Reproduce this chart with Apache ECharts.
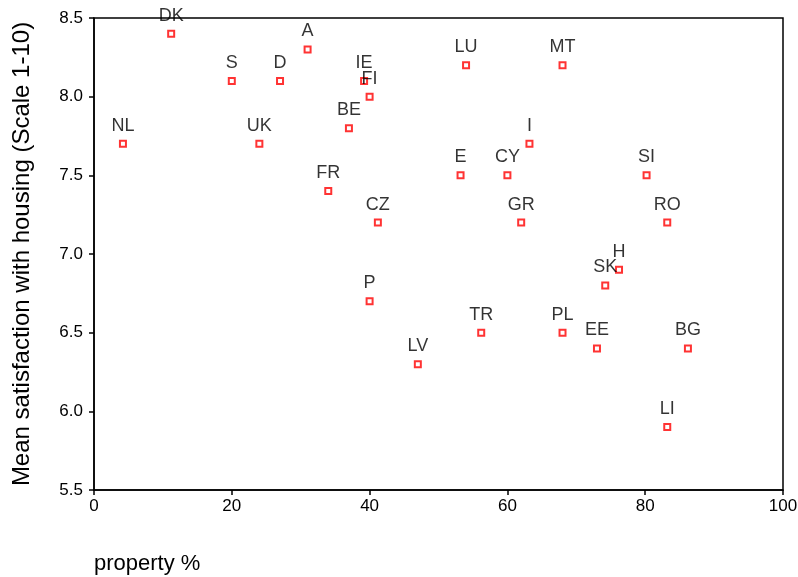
<!DOCTYPE html>
<html><head><meta charset="utf-8">
<script src="https://cdn.jsdelivr.net/npm/echarts@6/dist/echarts.min.js"></script>
<style>html,body{margin:0;padding:0;background:#fff}#c{width:798px;height:577px}</style>
</head><body><div id="c"></div>
<script>
const countries = ["DK","S","D","A","IE","FI","BE","NL","UK","FR","LU","MT","I","E","CY","SI","CZ","GR","RO","H","SK","P","TR","PL","EE","BG","LV","LI"];
const propertyPct = [11.2,20,27,31,39.2,40,37,4.2,24,34,54,68,63.2,53.2,60,80.2,41.2,62,83.2,76.2,74.2,40,56.2,68,73,86.2,47,83.2];
const satisfaction = [8.4,8.1,8.1,8.3,8.1,8.0,7.8,7.7,7.7,7.4,8.2,8.2,7.7,7.5,7.5,7.5,7.2,7.2,7.2,6.9,6.8,6.7,6.5,6.5,6.4,6.4,6.3,5.9];
const xTitle = "property %";
const yTitle = "Mean satisfaction with housing (Scale 1-10)";

const data = countries.map((c,i)=>({name:c, value:[propertyPct[i], satisfaction[i]]}));
const font = "Liberation Sans, Arial, sans-serif";
const chart = echarts.init(document.getElementById('c'));
chart.setOption({
  animation:false,
  grid:{left:94, top:18, right:15, bottom:87, outerBoundsMode:'none', containLabel:false, show:true, borderColor:'#000', borderWidth:1.5, backgroundColor:'transparent'},
  xAxis:{type:'value', min:0, max:100, interval:20,
    axisLine:{show:true, lineStyle:{color:'#000', width:1.5}},
    axisTick:{show:true, length:5, lineStyle:{color:'#000', width:1.5}},
    axisLabel:{color:'#000', fontSize:17, fontFamily:font, margin:8},
    splitLine:{show:false}},
  yAxis:{type:'value', min:5.5, max:8.5, interval:0.5,
    axisLine:{show:true, lineStyle:{color:'#000', width:1.5}},
    axisTick:{show:true, length:5, lineStyle:{color:'#000', width:1.5}},
    axisLabel:{color:'#000', fontSize:17, fontFamily:font, margin:11, formatter:v=>v.toFixed(1)},
    splitLine:{show:false},
    name:yTitle, nameLocation:'middle', nameGap:60, nameRotate:90,
    nameTextStyle:{color:'#000', fontSize:24, fontFamily:font}},
  graphic:[{type:'text', left:94, top:553, style:{text:xTitle, fill:'#000', font:'22px '+font}}],
  series:[{type:'scatter', data:data, symbol:'rect', symbolSize:6,
    itemStyle:{color:'#fff', borderColor:'#f00', borderWidth:2},
    label:{show:true, position:'top', distance:5, formatter:p=>p.name, color:'#000', fontSize:18, fontFamily:font}}]
});
</script></body></html>
